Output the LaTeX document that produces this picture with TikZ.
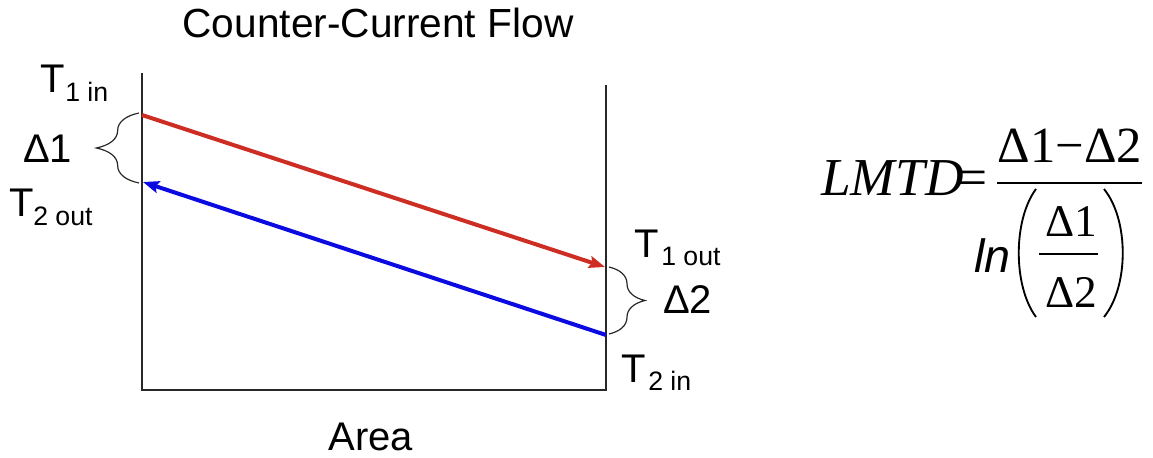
\documentclass[tikz,border=0pt]{standalone}
\usepackage{fontspec}
\setmainfont{Liberation Sans}
\newfontfamily\serifnums{Liberation Serif}
\usetikzlibrary{decorations.pathreplacing,arrows.meta}
\definecolor{hotred}{RGB}{205,45,35}
\definecolor{coldblue}{RGB}{10,10,225}
\definecolor{axisgray}{RGB}{40,40,40}
\begin{document}
\begin{tikzpicture}[x=0.75pt,y=-0.75pt,
  txt/.style={inner sep=0pt, anchor=base west, font=\fontsize{30}{36}\selectfont},
  subtxt/.style={inner sep=0pt, anchor=base west, font=\fontsize{20}{24}\selectfont},
  axisline/.style={draw=axisgray, line width=1.1pt},
  hotline/.style={draw=hotred, line width=3pt, -{Stealth[length=12pt,width=9pt,inset=2pt]}},
  coldline/.style={draw=coldblue, line width=3pt, -{Stealth[length=12pt,width=9pt,inset=2pt]}},
  bracel/.style={draw=axisgray, line width=0.9pt, decorate, decoration={brace, amplitude=32pt}},
  bracer/.style={draw=axisgray, line width=0.9pt, decorate, decoration={brace, amplitude=27pt}},
  fserif/.style={inner sep=0pt, font=\serifnums\fontsize{38}{44}\selectfont},
  finner/.style={inner sep=0pt, anchor=base, font=\serifnums\fontsize{34}{40}\selectfont},
  bar/.style={draw=black, line width=1.3pt},
  paren/.style={draw=black, line width=1.4pt}
]
\useasboundingbox (0,0) rectangle (1153,457);

% title and axis label
\node[txt, anchor=base, font=\fontsize{30.5}{36}\selectfont] (title) at (378,37) {Counter-Current Flow};
\node[txt, anchor=base] (area) at (371,450) {Area};

% axes
\coordinate (ytop) at (142,73);
\coordinate (origin) at (142,390);
\coordinate (xend) at (606,390);
\coordinate (rtop) at (606,85);
\draw[axisline] (ytop) -- (origin) -- (xend) -- (rtop);

% flows
\coordinate (h1) at (142,115);
\coordinate (h2) at (605,267);
\coordinate (c1) at (606,335);
\coordinate (c2) at (143,182);
\draw[hotline] (h1) -- (h2);
\draw[coldline] (c1) -- (c2);

% braces
\coordinate (b1s) at (139,183);
\coordinate (b1e) at (139,113);
\coordinate (b2s) at (609,267);
\coordinate (b2e) at (609,334);
\draw[bracel] (b1s) -- (b1e);
\draw[bracer] (b2s) -- (b2e);

% labels left
\node[txt] (t1in) at (40,92) {T};
\node[subtxt] (t1insub) at (65,101) {1 in};
\node[txt] (d1) at (23,162) {Δ1};
\node[txt] (t2out) at (9,216) {T};
\node[subtxt] (t2outsub) at (33,225) {2 out};

% labels right
\node[txt] (t1out) at (634,257) {T};
\node[subtxt] (t1outsub) at (661,265) {1 out};
\node[txt] (d2) at (663,313) {Δ2};
\node[txt] (t2in) at (621,382) {T};
\node[subtxt] (t2insub) at (648,390) {2 in};

% formula
\node[fserif, anchor=base west, font=\serifnums\itshape\fontsize{40}{48}\selectfont] (lmtd) at (821,195) {LMTD};
\node[fserif, anchor=base, font=\serifnums\fontsize{40}{48}\selectfont] (eq) at (973,195) {=};
\node[fserif, anchor=base] (num) at (1070,162) {Δ1−Δ2};
\draw[bar] (997,183) -- (1142,183);
\node[inner sep=0pt, anchor=base west, font=\itshape\fontsize{35}{42}\selectfont] (ln) at (974,272) {ln};
\draw[paren] (1036,189) .. controls (1013,220) and (1013,286) .. (1036,317);
\draw[paren] (1104,189) .. controls (1129,220) and (1129,286) .. (1104,317);
\node[finner] (in1) at (1071,236) {Δ1};
\draw[bar] (1039,254) -- (1098,254);
\node[finner] (in2) at (1071,307) {Δ2};
\end{tikzpicture}
\end{document}
